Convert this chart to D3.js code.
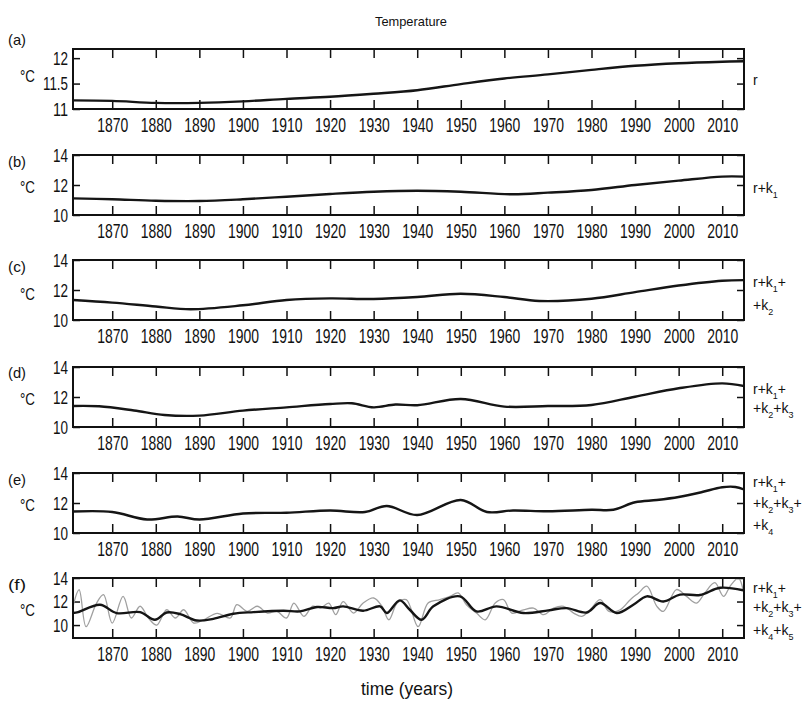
<!DOCTYPE html>
<meta charset="utf-8">
<html>
<head>
<style>
  body { margin: 0; background: #fff; }
  svg text { font-family: "Liberation Sans", Arial, sans-serif; fill: #111; }
</style>
</head>
<body>
<div id="chart"></div>
<script src="https://d3js.org/d3.v7.min.js"></script>
<script>

  // ---- data ----
  var decades = [1870, 1880, 1890, 1900, 1910, 1920, 1930, 1940, 1950, 1960, 1970, 1980, 1990, 2000, 2010];

  var yearsA = [1861, 1870, 1880, 1890, 1900, 1910, 1920, 1930, 1940, 1950, 1960, 1970, 1980, 1990, 2000, 2010, 2015];
  var tempA  = [11.17, 11.16, 11.12, 11.12, 11.15, 11.2, 11.24, 11.3, 11.37, 11.49, 11.6, 11.68, 11.77, 11.85, 11.9, 11.93, 11.94];

  var yearsB = [1861, 1870, 1880, 1890, 1900, 1910, 1920, 1930, 1940, 1950, 1962, 1970, 1980, 1990, 2000, 2010, 2015];
  var tempB  = [11.11, 11.05, 10.95, 10.93, 11.05, 11.22, 11.4, 11.55, 11.62, 11.55, 11.38, 11.49, 11.67, 12.0, 12.29, 12.56, 12.56];

  var yearsC = [1861, 1870, 1880, 1888, 1900, 1910, 1920, 1930, 1940, 1950, 1960, 1968, 1980, 1990, 2000, 2010, 2015];
  var tempC  = [11.33, 11.16, 10.9, 10.72, 10.98, 11.33, 11.44, 11.4, 11.53, 11.75, 11.53, 11.27, 11.42, 11.86, 12.3, 12.62, 12.66];

  var yearsD = [1861, 1867, 1875, 1882, 1890, 1900, 1910, 1920, 1925, 1930, 1935, 1940, 1950, 1960, 1970, 1980, 1990, 2000, 2010, 2015];
  var tempD  = [11.4, 11.38, 11.1, 10.8, 10.76, 11.09, 11.31, 11.53, 11.58, 11.31, 11.5, 11.45, 11.87, 11.36, 11.4, 11.47, 12.02, 12.58, 12.91, 12.73];

  var yearsE = [1861, 1870, 1878, 1885, 1890, 1900, 1910, 1920, 1928, 1933, 1940, 1950, 1956, 1962, 1970, 1980, 1985, 1990, 1995, 2000, 2005, 2010, 2013, 2015];
  var tempE  = [11.43, 11.4, 10.9, 11.1, 10.9, 11.3, 11.35, 11.5, 11.4, 11.8, 11.2, 12.2, 11.4, 11.5, 11.45, 11.55, 11.55, 12.05, 12.2, 12.4, 12.7, 13.05, 13.07, 12.9];

  var yearsF = [1861, 1862.2, 1867.2, 1871, 1876.4, 1879.8, 1882.5, 1885.6, 1889.4, 1893.2, 1897.8, 1902.4, 1909.3, 1913.1, 1917, 1920.7, 1923, 1927.6, 1931.5, 1933, 1936, 1938.3, 1941, 1943.7, 1949.8, 1953.6, 1958.2, 1964.4, 1970.1, 1974.3, 1978.9, 1982, 1985.8, 1989.6, 1992.7, 1996.5, 2000.3, 2004.9, 2009.5, 2014.8];
  var tempF  = [11.02, 11.1, 11.73, 11.02, 11.1, 10.45, 11.07, 10.93, 10.39, 10.53, 10.96, 11.1, 11.22, 11.16, 11.54, 11.44, 11.59, 11.22, 11.59, 11.02, 12.1, 11.3, 10.45, 11.59, 12.44, 11.16, 11.59, 11.02, 11.25, 11.44, 11.07, 11.87, 11.02, 11.73, 12.44, 12.0, 12.59, 12.55, 13.17, 12.96];

  var yearsG = [1861, 1862.4, 1864, 1866.4, 1868, 1870, 1872.5, 1874.4, 1876.4, 1878.3, 1880.2, 1882.5, 1884.5, 1886.4, 1888.7, 1891, 1894.1, 1897.1, 1898.6, 1901, 1903.3, 1905.6, 1907.8, 1910, 1911.7, 1914, 1916, 1917.8, 1919.7, 1921.3, 1923, 1925.4, 1927.6, 1930, 1931.9, 1933.5, 1935.4, 1937.5, 1940.2, 1942.5, 1945.2, 1947.5, 1949.4, 1951.3, 1953.6, 1955.6, 1957.9, 1959.8, 1961.7, 1964.4, 1966.7, 1969, 1971.3, 1973.6, 1975.9, 1977.8, 1979.7, 1982, 1984, 1986.6, 1988.9, 1990.8, 1992.7, 1995, 1996.5, 1999.5, 2001.8, 2004.1, 2006, 2008.3, 2010.3, 2011.8, 2013.7, 2014.8];
  var tempG  = [11.6, 13.0, 9.86, 11.87, 12.59, 10.17, 12.44, 10.6, 11.6, 10.6, 10.0, 11.3, 10.6, 11.3, 10.17, 10.45, 11.0, 10.6, 11.73, 11.16, 11.6, 11.02, 11.16, 10.6, 11.87, 10.74, 11.6, 11.44, 11.87, 10.88, 12.0, 11.02, 11.87, 12.3, 11.6, 10.45, 11.87, 12.16, 9.86, 11.87, 12.16, 12.44, 12.73, 11.73, 11.02, 10.45, 11.87, 12.16, 11.02, 11.3, 11.44, 10.88, 11.44, 11.59, 11.02, 10.74, 11.3, 12.16, 11.16, 11.3, 12.16, 12.73, 13.3, 11.59, 11.16, 13.02, 12.44, 11.87, 12.73, 13.6, 12.44, 13.3, 14.0, 13.0];

  var panelTags = ["(a)", "(b)", "(c)", "(d)", "(e)", "(f)"];
  var yDomains  = [[11, 12.18], [10, 14], [10, 14], [10, 14], [10, 14], [8.9, 14]];
  var yTicks    = [[11, 11.5, 12], [10, 12, 14], [10, 12, 14], [10, 12, 14], [10, 12, 14], [10, 12, 14]];

  // right-hand labels: lines of [text, isSubscript]
  var rightLabels = [
    [[["r"]]],
    [[["r+k"], ["1", 1]]],
    [[["r+k"], ["1", 1], ["+"]], [["+k"], ["2", 1]]],
    [[["r+k"], ["1", 1], ["+"]], [["+k"], ["2", 1], ["+k"], ["3", 1]]],
    [[["r+k"], ["1", 1], ["+"]], [["+k"], ["2", 1], ["+k"], ["3", 1], ["+"]], [["+k"], ["4", 1]]],
    [[["r+k"], ["1", 1], ["+"]], [["+k"], ["2", 1], ["+k"], ["3", 1], ["+"]], [["+k"], ["4", 1], ["+k"], ["5", 1]]]
  ];

  var series = [
    [{yr: yearsA, t: tempA}],
    [{yr: yearsB, t: tempB}],
    [{yr: yearsC, t: tempC}],
    [{yr: yearsD, t: tempD}],
    [{yr: yearsE, t: tempE}],
    [{yr: yearsG, t: tempG, grey: true}, {yr: yearsF, t: tempF}]
  ];

  // ---- layout ----
  var W = 802, H = 701;
  var tops = [49, 155, 260, 367, 473, 578];
  var ph = 60;
  var tagDy = [-4, 12, 12, 11, 12, 12];
  var degDy = [33, 38, 40, 38, 38, 38];
  var rightBase = [[36], [38], [27, 50], [27, 46], [14, 35, 57], [15, 34, 57]];

  var svg = d3.select("#chart").append("svg")
      .attr("width", W)
      .attr("height", H);

  var x = d3.scaleLinear().domain([1861, 2015]).range([73, 744]);

  svg.append("text")
    .attr("x", 411).attr("y", 26)
    .attr("text-anchor", "middle")
    .attr("font-size", 13)
    .attr("textLength", 72).attr("lengthAdjust", "spacingAndGlyphs")
    .text("Temperature");

  tops.forEach(function(top, i) {
    var y = d3.scaleLinear().domain(yDomains[i]).range([top + ph, top]);
    var g = svg.append("g");

    // ticks inward on all four sides
    var bx = g.append("g").attr("transform", "translate(0," + (top + ph) + ")")
      .call(d3.axisBottom(x).tickValues(decades).tickSize(-9).tickPadding(8).tickFormat(d3.format("d")));
    bx.selectAll("text").attr("font-size", 21)
      .attr("textLength", 31).attr("lengthAdjust", "spacingAndGlyphs");

    g.append("g").attr("transform", "translate(0," + top + ")")
      .call(d3.axisTop(x).tickValues(decades).tickSize(-9).tickFormat(""));

    var ly = g.append("g").attr("transform", "translate(73,0)")
      .call(d3.axisLeft(y).tickValues(yTicks[i]).tickSize(-7).tickPadding(5).tickFormat(function(d) { return String(d); }));
    ly.selectAll("text").attr("font-size", 19)
      .attr("textLength", function(d) { return String(d).length > 2 ? 25 : 15; })
      .attr("lengthAdjust", "spacingAndGlyphs");

    g.append("g").attr("transform", "translate(744,0)")
      .call(d3.axisRight(y).tickValues(yTicks[i]).tickSize(-7).tickFormat(""));

    g.selectAll(".domain").remove();
    g.selectAll(".tick line").attr("stroke", "#111").attr("stroke-width", 1.5);

    g.append("clipPath").attr("id", "clip" + i)
      .append("rect").attr("x", 73).attr("y", top).attr("width", 671).attr("height", ph);

    series[i].forEach(function(s) {
      var pts = s.yr.map(function(yr, k) { return [yr, s.t[k]]; });
      g.append("path")
        .datum(pts)
        .attr("clip-path", "url(#clip" + i + ")")
        .attr("fill", "none")
        .attr("stroke", s.grey ? "#a0a0a0" : "#151515")
        .attr("stroke-width", s.grey ? 1.3 : 2.4)
        .attr("d", d3.line()
          .curve(d3.curveCatmullRom)
          .x(function(d) { return x(d[0]); })
          .y(function(d) { return y(d[1]); }));
    });

    g.append("rect")
      .attr("x", 73).attr("y", top)
      .attr("width", 671).attr("height", ph)
      .attr("fill", "none").attr("stroke", "#111").attr("stroke-width", 2);

    g.append("text")
      .attr("x", 8).attr("y", top + tagDy[i])
      .attr("font-size", 15)
      .attr("textLength", 18).attr("lengthAdjust", "spacingAndGlyphs")
      .text(panelTags[i]);

    g.append("text")
      .attr("x", 20).attr("y", top + degDy[i])
      .attr("font-size", 17)
      .attr("textLength", 15).attr("lengthAdjust", "spacingAndGlyphs")
      .text("°C");

    rightLabels[i].forEach(function(line, j) {
      var t = g.append("text")
        .attr("x", 753).attr("y", top + rightBase[i][j])
        .attr("font-size", 14);
      var low = false;
      line.forEach(function(seg) {
        var sub = seg[1] === 1;
        var ts = t.append("tspan").text(seg[0]);
        if (sub) { ts.attr("dy", 5).attr("font-size", 9); low = true; }
        else if (low) { ts.attr("dy", -5); low = false; }
      });
    });
  });

  svg.append("text")
    .attr("x", 407).attr("y", 695)
    .attr("text-anchor", "middle")
    .attr("font-size", 19)
    .attr("textLength", 92).attr("lengthAdjust", "spacingAndGlyphs")
    .text("time (years)");

</script>
</body>
</html>
